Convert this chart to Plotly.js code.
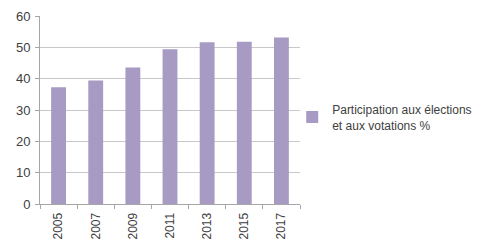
<!DOCTYPE html>
<html>
<head>
<meta charset="utf-8">
<script src="https://cdn.plot.ly/plotly-3.0.1.min.js"></script>
<style>html,body{margin:0;padding:0;background:#fff;}#chart{width:477px;height:242px;}</style>
</head>
<body>
<div id="chart"></div>
<script>
const years = ["2005", "2007", "2009", "2011", "2013", "2015", "2017"];
const participation = [37.3, 39.4, 43.6, 49.4, 51.6, 51.8, 53.1];
const seriesName = "Participation aux élections<br>et aux votations %";
const yTicks = [0, 10, 20, 30, 40, 50, 60];

const trace = {
  type: "bar",
  x: years,
  y: participation,
  name: seriesName,
  width: 0.4,
  marker: {color: "#A79AC3", line: {width: 0}},
  showlegend: true
};

const layout = {
  width: 477, height: 242,
  margin: {l: 40, r: 177, t: 16, b: 38, pad: 0, autoexpand: false},
  paper_bgcolor: "#fff", plot_bgcolor: "#fff",
  font: {family: "Liberation Sans, Arial, sans-serif", size: 12, color: "#404040"},
  bargap: 0.6,
  xaxis: {
    type: "category",
    tickangle: -90,
    ticks: "outside", ticklen: 4, tickcolor: "#A6A6A6",
    tickson: "boundaries",
    showline: true, linecolor: "#A6A6A6", linewidth: 1,
    showgrid: false, zeroline: false,
    tickfont: {size: 12, color: "#404040"},
    ticklabelstandoff: 3,
    automargin: false,
    fixedrange: true
  },
  yaxis: {
    range: [0, 60],
    tickvals: yTicks,
    ticktext: yTicks.map(String),
    ticks: "outside", ticklen: 4, tickcolor: "#A6A6A6",
    showline: true, linecolor: "#A6A6A6", linewidth: 1,
    showgrid: true, gridcolor: "#C8C8C8", gridwidth: 1,
    zeroline: false,
    tickfont: {size: 13, color: "#404040"},
    ticklabelstandoff: 2,
    automargin: false,
    fixedrange: true
  },
  showlegend: true,
  legend: {
    x: 0.97, xref: "paper", y: 0.46, xanchor: "left", yanchor: "middle",
    font: {size: 12, color: "#404040"},
    bgcolor: "rgba(0,0,0,0)",
    itemwidth: 30
  }
};

Plotly.newPlot("chart", [trace], layout, {displayModeBar: false, staticPlot: true});
</script>
</body>
</html>
